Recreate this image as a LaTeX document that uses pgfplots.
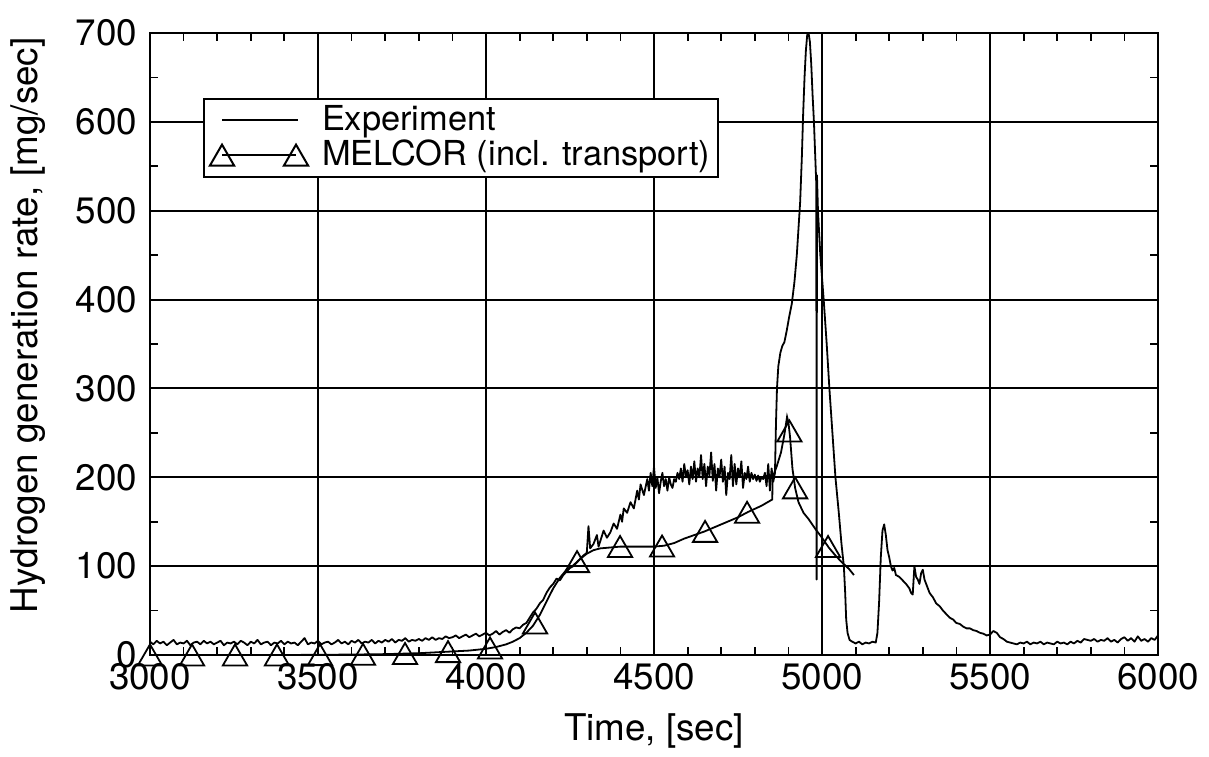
\documentclass[border=0pt]{standalone}
\usepackage{fontspec}
\setmainfont{TeX Gyre Heros}
\usepackage{pgfplots}
\pgfplotsset{compat=1.18}
\pgfplotstableread{
x y
3000 15
3010 12
3020 16
3030 13
3040 15
3050 11
3060 14
3070 17
3080 12
3090 14
3100 13
3110 16
3120 11
3130 14
3140 15
3150 12
3160 16
3170 13
3180 15
3190 12
3200 14
3210 16
3220 11
3230 14
3240 13
3250 15
3260 12
3270 16
3280 14
3290 11
3300 15
3310 13
3320 17
3330 12
3340 14
3350 15
3360 11
3370 14
3380 13
3390 16
3400 12
3410 15
3420 13
3430 14
3440 11
3450 15
3460 19
3470 12
3480 14
3490 13
3500 16
3510 12
3520 14
3530 15
3540 12
3550 14
3560 17
3570 13
3580 15
3590 12
3600 16
3610 14
3620 17
3630 13
3640 15
3650 14
3660 17
3670 13
3680 16
3690 14
3700 17
3710 15
3720 18
3730 14
3740 17
3750 16
3760 19
3770 15
3780 17
3790 16
3800 18
3810 16
3820 19
3830 17
3840 20
3850 17
3860 19
3870 18
3880 21
3890 19
3900 20
3910 22
3920 19
3930 21
3940 23
3950 20
3960 22
3970 24
3980 21
3990 23
4000 25
4010 22
4020 24
4030 27
4040 23
4050 26
4060 28
4070 25
4080 29
4090 31
4100 30
4110 34
4120 36
4130 42
4140 48
4150 52
4160 58
4170 62
4180 70
4190 76
4200 80
4210 86
4220 84
4230 90
4240 94
4250 98
4260 100
4270 104
4280 108
4290 112
4300 115
4305 145
4310 120
4320 125
4330 135
4335 122
4340 128
4350 140
4360 132
4370 138
4380 148
4390 142
4400 158
4405 150
4410 165
4420 160
4430 172
4440 165
4450 185
4455 175
4460 192
4470 180
4480 198
4485 185
4490 205
4495 190
4500 212
4505 188
4510 200
4515 182
4520 195
4525 205
4530 190
4535 198
4540 185
4545 200
4550 192
4555 188
4560 198
4565 195
4570 205
4575 198
4580 210
4585 195
4590 215
4595 200
4600 208
4605 192
4610 212
4615 198
4620 218
4625 195
4630 210
4635 200
4640 225
4645 198
4650 215
4655 190
4660 212
4665 202
4670 228
4675 196
4680 215
4685 185
4690 210
4695 200
4700 220
4705 195
4710 212
4715 180
4720 205
4725 198
4730 225
4735 190
4740 215
4745 192
4750 210
4755 200
4760 218
4765 188
4770 205
4775 198
4780 212
4785 195
4790 205
4795 198
4800 203
4805 196
4810 202
4815 195
4820 200
4825 198
4830 205
4835 190
4840 215
4845 185
4850 210
4855 195
4860 205
4863 260
4866 300
4870 325
4876 340
4882 348
4888 352
4895 365
4902 380
4910 395
4918 420
4925 450
4930 480
4935 510
4940 560
4944 610
4948 650
4952 680
4956 698
4960 700
4964 690
4968 665
4972 630
4976 600
4980 560
4983 530
4984 85
4985 540
4988 500
4995 450
5005 400
5014 350
5022 300
5031 250
5040 200
5050 160
5058 125
5065 100
5069 70
5072 40
5076 25
5082 17
5090 15
5100 13
5110 15
5120 12
5130 14
5140 13
5150 15
5160 14
5165 25
5170 60
5175 110
5180 140
5185 147
5190 135
5195 118
5200 110
5205 100
5210 95
5215 98
5220 90
5230 88
5240 84
5250 80
5260 75
5265 70
5270 68
5275 100
5280 88
5285 85
5290 80
5295 92
5300 96
5305 85
5310 80
5320 70
5330 65
5340 58
5350 55
5360 50
5370 46
5380 42
5390 40
5400 36
5410 35
5420 32
5430 30
5440 30
5450 28
5460 27
5470 25
5480 24
5490 22
5500 23
5510 27
5520 25
5530 20
5540 18
5550 15
5560 14
5570 13
5580 12
5590 14
5600 13
5610 15
5620 12
5630 14
5640 13
5650 15
5660 12
5670 14
5680 13
5690 12
5700 15
5710 13
5720 14
5730 12
5740 15
5750 13
5760 16
5770 14
5780 18
5790 17
5800 16
5810 18
5820 15
5830 17
5840 16
5850 19
5860 15
5870 17
5880 14
5890 18
5900 20
5910 16
5920 19
5930 15
5940 21
5950 16
5960 18
5970 15
5980 19
5990 17
6000 22
}\experiment
\pgfplotstableread{
x y
3000 0
3200 0
3400 0
3600 0.5
3700 1
3800 2
3900 4
3950 5
4000 7
4030 9
4060 12
4080 15
4100 19
4120 25
4140 33
4160 45
4180 60
4200 75
4220 87
4240 96
4260 101
4280 108
4300 114
4320 118
4340 120
4370 121
4400 122
4450 122
4500 122
4530 123
4560 126
4590 131
4620 135
4650 139
4700 147
4750 155
4780 161
4820 168
4852 175
4853 200
4865 212
4878 228
4888 248
4896 268
4900 262
4905 245
4912 210
4920 188
4930 172
4945 160
4960 153
4980 142
5000 132
5020 121
5040 112
5060 104
5080 97
5095 90
}\melcor
\pgfplotstableread{
x y
3000 0
3125 0
3253 0
3378 0
3506 0.3
3634 0.7
3759 1.6
3887 3.7
4012 7.8
4146 36
4271 105
4399 122
4524 122.5
4652 139
4777 160.5
4903 252
4920 188
5018 122
}\melcormarks
\begin{document}
\fontsize{18.4}{22}\selectfont
\begin{tikzpicture}
\path[use as bounding box] (-75pt,-50.5pt) rectangle (529.5pt,327.5pt);
\begin{axis}[
  at={(0pt,0pt)}, anchor=south west,
  scale only axis, width=504pt, height=311pt,
  xmin=3000, xmax=6000, ymin=0, ymax=700,
  xtick={3000,3500,...,6000}, ytick={0,100,...,700},
  minor x tick num=4, minor y tick num=1,
  tick align=inside, major tick length=0pt, minor tick length=4pt,
  grid=major, major grid style={black, line width=1pt},
  axis line style={line width=1pt},
  every tick/.style={black, line width=0.9pt},
  tick label style={font=\fontsize{18.4}{22}\selectfont},
  xticklabel style={yshift=2pt},
  /pgf/number format/assume math mode=true,
  /pgf/number format/1000 sep={},
  xlabel={Time, [sec]},
  ylabel={Hydrogen generation rate, [mg/sec]},
  label style={font=\fontsize{18.4}{22}\selectfont},
  xlabel style={at={(axis description cs:0.5,-0.1367)}, anchor=base},
  ylabel style={at={(axis description cs:-0.121,0.53)}, anchor=center},
  clip mode=individual,
  legend style={at={(axis description cs:0.0526,0.8955)}, anchor=north west,
    draw=black, line width=1pt, font=\fontsize{17.2}{20}\selectfont,
    inner xsep=2pt, inner ysep=1pt, row sep=-2pt, cells={anchor=west}},
  legend cell align=left,
]
\addlegendimage{legend image code/.code={
  \path[draw=none, fill=none] (-7pt,-4pt) rectangle (48pt,4pt);
  \draw[black, line width=1pt] (0pt,0pt) -- (38pt,0pt);}}
\addlegendentry{Experiment}
\addlegendimage{legend image code/.code={
  \path[draw=none, fill=none] (-7pt,-4pt) rectangle (48pt,4pt);
  \draw[black, line width=1pt] (0pt,0pt) -- (37pt,0pt);
  \draw[black, line width=1pt] (0pt,-1.7pt) +(90:7pt) -- +(210:7pt) -- +(330:7pt) -- cycle;
  \draw[black, line width=1pt] (37pt,-1.7pt) +(90:7pt) -- +(210:7pt) -- +(330:7pt) -- cycle;}}
\addlegendentry{MELCOR (incl. transport)}
\addplot[black, line width=0.9pt, line join=round, forget plot] table[x=x, y=y] {\experiment};
\addplot[black, line width=0.9pt, forget plot] table[x=x, y=y] {\melcor};
\addplot[only marks, mark=triangle, mark size=7pt,
  mark options={black, line width=0.9pt, fill=none, yshift=-1.7pt}, forget plot]
  table[x=x, y=y] {\melcormarks};
\end{axis}
\end{tikzpicture}
\end{document}
